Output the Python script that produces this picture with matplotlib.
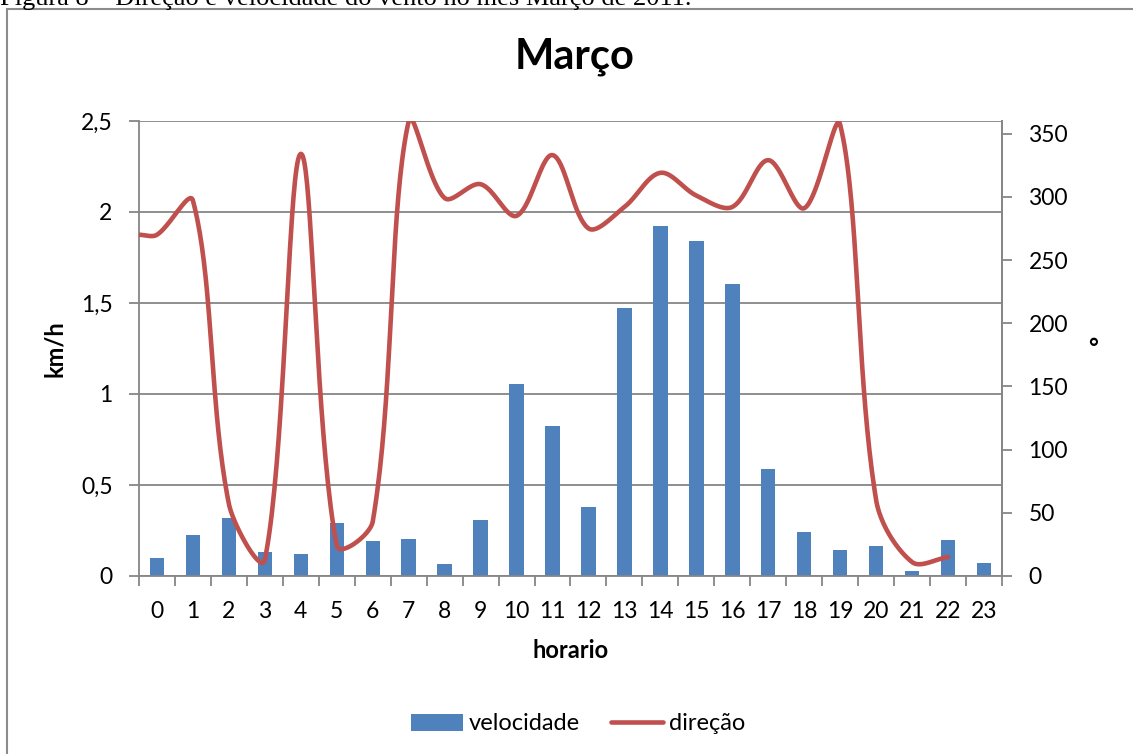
import matplotlib
matplotlib.use("Agg")
import matplotlib.pyplot as plt
from matplotlib.patches import Rectangle, Patch
from matplotlib.lines import Line2D
import numpy as np

plt.rcParams['font.family'] = ['Lato', 'DejaVu Sans']

horas = list(range(24))
velocidade = [0.10, 0.225, 0.32, 0.134, 0.12, 0.29, 0.19, 0.205, 0.065, 0.31,
              1.055, 0.825, 0.38, 1.473, 1.923, 1.84, 1.604, 0.588, 0.243, 0.141,
              0.163, 0.026, 0.198, 0.07]
# direction has no value at hour 23
direcao = [270, 297, 57, 13, 334, 24, 43, 360, 299, 310, 285, 333, 275, 292,
           319, 301, 292, 329, 291, 357, 60, 11, 15]

left_ticks = [0, 0.5, 1, 1.5, 2, 2.5]
left_labels = ['0', '0,5', '1', '1,5', '2', '2,5']
right_ticks = [0, 50, 100, 150, 200, 250, 300, 350]

azul = '#4F81BD'
vermelho = '#C0504D'
cinza = '#868686'

FS = 16.5


def suaviza(x, y, sx, sy, n=40):
    # bezier smoothing like Excel: tangents weighted by segment lengths (in pixels)
    p = np.column_stack([np.asarray(x, float) * sx, np.asarray(y, float) * sy])
    p = np.vstack([p[0], p, p[-1]])
    t = np.linspace(0, 1, n)[:, None]
    out = []
    for i in range(1, len(p) - 2):
        p0, p1, p2, p3 = p[i - 1], p[i], p[i + 1], p[i + 2]
        d01 = np.hypot(*(p1 - p0))
        d12 = np.hypot(*(p2 - p1))
        d23 = np.hypot(*(p3 - p2))
        c1 = p1 + (p2 - p0) * d12 / (3 * (d01 + d12)) if d01 + d12 > 0 else p1
        c2 = p2 - (p3 - p1) * d12 / (3 * (d12 + d23)) if d12 + d23 > 0 else p2
        b = (1 - t) ** 3 * p1 + 3 * (1 - t) ** 2 * t * c1 + 3 * (1 - t) * t ** 2 * c2 + t ** 3 * p2
        out.append(b)
    out = np.vstack(out)
    return out[:, 0] / sx, out[:, 1] / sy


fig = plt.figure(figsize=(11.33, 7.54), dpi=100)

# caption of the document, cut at the top
fig.text(0.0, 1 - 5 / 754, "Figura 8 – Direção e velocidade do vento no mês Março de 2011.",
         family='Liberation Serif', fontsize=19, ha='left', va='baseline')
fig.patches.append(Rectangle((7 / 1133, -0.1), 1.2, 1 - 9 / 754 + 0.1,
                             transform=fig.transFigure, fill=False,
                             edgecolor='#8c8c8c', lw=1.5, clip_on=False))

ax = fig.add_axes([139 / 1133, 1 - 576 / 754, (1002 - 139) / 1133, (576 - 121) / 754])
ax.bar(horas, velocidade, width=0.4, color=azul, zorder=2)
ax.set_xlim(-0.5, 23.5)
ax.set_ylim(0, 2.5)
ax.set_yticks(left_ticks)
ax.set_yticklabels(left_labels)
ax.yaxis.grid(True, color=cinza, lw=1.3)
ax.set_axisbelow(True)
for s in ax.spines.values():
    s.set_color(cinza)
    s.set_linewidth(1.3)
ax.spines['top'].set_visible(False)

ax.set_xticks(np.arange(-0.5, 24, 1))
ax.set_xticklabels([])
ax.set_xticks(horas, minor=True)
ax.set_xticklabels([str(h) for h in horas], minor=True)
ax.tick_params(axis='x', which='major', length=7, color=cinza, width=1.3)
ax.tick_params(axis='x', which='minor', length=0, pad=18, labelsize=FS)
ax.tick_params(axis='y', length=7, color=cinza, width=1.3, labelsize=FS, pad=12)

ax.set_ylabel('km/h', fontsize=17, fontweight='bold', labelpad=11)
ax.set_xlabel('horario', fontsize=17, fontweight='bold', labelpad=12)

ax2 = ax.twinx()
# the line starts flat at the left edge of the plot area
xl = [-0.5] + horas[:len(direcao)]
yl = [direcao[0]] + direcao
sx = 863 / 24
sy = 455 / 360
xs, ys = suaviza(xl, yl, sx, sy)
ax2.plot(xs, ys, color=vermelho, lw=3.3, solid_capstyle='round', zorder=3)
ax2.set_ylim(0, 360)
ax2.set_yticks(right_ticks)
ax2.tick_params(axis='y', length=7, color=cinza, width=1.3, labelsize=FS, pad=12)
for s in ax2.spines.values():
    s.set_visible(False)
ax2.spines['right'].set_visible(True)
ax2.spines['right'].set_color(cinza)
ax2.spines['right'].set_linewidth(1.3)
ax2.set_ylabel('°', fontsize=17, fontweight='bold', rotation=0, labelpad=18, va='center')

fig.text(575 / 1133, 1 - 68 / 754, 'Março', fontsize=30, fontweight='bold',
         ha='center', va='baseline')

handles = [Patch(facecolor=azul), Line2D([], [], color=vermelho, lw=3.3, solid_capstyle='round')]
fig.legend(handles, ['velocidade', 'direção'], loc='center', ncol=2,
           bbox_to_anchor=(578 / 1133, 1 - 724 / 754), frameon=False, fontsize=17,
           handlelength=2.2, handletextpad=0.25, columnspacing=1.3)

fig.savefig('out.png', dpi=100)
